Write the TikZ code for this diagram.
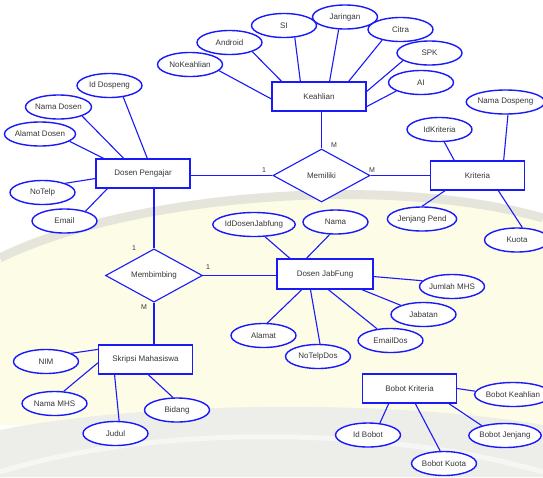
\documentclass[tikz,border=0pt]{standalone}
\usepackage{fontspec}
\setmainfont{Liberation Sans}
\usetikzlibrary{shapes.geometric}
\definecolor{erblue}{RGB}{25,25,250}
\definecolor{ertext}{RGB}{55,55,55}
\definecolor{paleyellow}{RGB}{253,252,230}
\definecolor{roofgray}{RGB}{230,229,220}
\definecolor{floorgray}{RGB}{237,237,234}
\tikzset{
  ent/.style={rectangle, draw=erblue, line width=1.2pt, fill=white, minimum width=94pt, minimum height=29pt, inner sep=0pt},
  rel/.style={diamond, draw=erblue, line width=1.1pt, fill=white, minimum width=97pt, minimum height=53pt, inner sep=0pt},
  attr/.style={ellipse, draw=erblue, line width=1.4pt, fill=white, minimum width=65pt, minimum height=24pt, inner sep=0pt},
  conn/.style={draw=erblue, line width=1.1pt},
  card/.style={font=\fontsize{7}{8}\selectfont, text=ertext, inner sep=0pt}
}
\begin{document}
\begin{tikzpicture}[x=1pt, y=-1pt, font=\fontsize{8}{9}\selectfont, text=ertext]
\useasboundingbox (0,0) rectangle (543,477);
\fill[white] (0,0) rectangle (543,477);

% faded backdrop: pale wall, arched roof line and grey forecourt
\fill[paleyellow] (0,255) .. controls (120,195) and (380,170) .. (543,215)
  -- (543,425) -- (0,425) -- cycle;
\draw[roofgray, line width=9pt] (0,258) .. controls (120,198) and (380,172) .. (543,218);
\fill[floorgray] (0,430) .. controls (150,400) and (400,400) .. (543,425) -- (543,477) -- (0,477) -- cycle;
\draw[white, line width=5pt, opacity=0.5] (0,472) .. controls (150,425) and (380,425) .. (543,472);

% entities
\node[ent] (dp) at (143,173.5) {Dosen Pengajar};
\node[ent] (ke) at (319,96.5) {Keahlian};
\node[ent] (kr) at (477.5,175.5) {Kriteria};
\node[ent, minimum width=96pt, minimum height=30pt] (dj) at (325,274) {Dosen JabFung};
\node[ent] (sm) at (145.5,359.5) {Skripsi Mahasiswa};
\node[ent] (bk) at (409.5,388.5) {Bobot Kriteria};

% relationships
\node[rel] (mem) at (321.5,175.5) {Memiliki};
\node[rel] (mbb) at (154,275.5) {Membimbing};

% attributes
\node[attr] (idd) at (109.5,85.5) {Id Dospeng};
\node[attr] (nmd) at (58.5,107) {Nama Dosen};
\node[attr] (ald) at (40,134) {Alamat Dosen};
\node[attr] (ntp) at (42.5,192.5) {NoTelp};
\node[attr] (eml) at (64.5,221) {Email};
\node[attr] (nok) at (190,64.5) {NoKeahlian};
\node[attr] (and) at (229.5,42.5) {Android};
\node[attr] (si) at (284,25.5) {SI};
\node[attr] (jar) at (345,17) {Jaringan};
\node[attr] (cit) at (400.5,29.5) {Citra};
\node[attr] (spk) at (429.5,53) {SPK};
\node[attr] (ai) at (421,82.5) {AI};
\node[attr] (ndk) at (505.5,102) {Nama Dospeng};
\node[attr] (idk) at (439.5,129.5) {IdKriteria};
\node[attr] (jjp) at (422,219) {Jenjang Pend};
\node[attr] (kuo) at (517,240) {Kuota};
\node[attr] (idj) at (254,224.5) {IdDosenJabfung};
\node[attr] (nam) at (335.5,222) {Nama};
\node[attr] (jmh) at (452,286.5) {Jumlah MHS};
\node[attr] (jab) at (423.5,314.5) {Jabatan};
\node[attr] (emd) at (390.5,340.5) {EmailDos};
\node[attr] (ntd) at (318,356.5) {NoTelpDos};
\node[attr] (ala) at (263.5,335.5) {Alamat};
\node[attr] (nim) at (46,361.5) {NIM};
\node[attr] (nmh) at (54.5,403.5) {Nama MHS};
\node[attr] (jud) at (115.5,433.5) {Judul};
\node[attr] (bid) at (177,410) {Bidang};
\node[attr] (bke) at (513,394.5) {Bobot Keahlian};
\node[attr] (idb) at (368,435) {Id Bobot};
\node[attr] (bku) at (444,463.5) {Bobot Kuota};
\node[attr] (bje) at (505,435.5) {Bobot Jenjang};

% relationship links
\draw[conn] (dp.east |- mem.west) -- (mem.west);
\draw[conn] (mbb.north |- dp.south) -- (mbb.north);
\draw[conn] (mem.north |- ke.south) -- (mem.north);
\draw[conn] (mem.east) -- (kr.west);
\draw[conn] (mbb.east) -- (dj.west |- mbb.east);
\draw[conn] (mbb.south) -- (mbb.south |- sm.north);

% cardinalities
\node[card] (c1) at (264,170) {1};
\node[card] (c2) at (334,145) {M};
\node[card] (c3) at (372,170) {M};
\node[card] (c4) at (134,248) {1};
\node[card] (c5) at (208,267) {1};
\node[card] (c6) at (144,307) {M};

% Dosen Pengajar attributes
\draw[conn] (idd.-40) -- (dp.74.6);
\draw[conn] (nmd.-21) -- (dp.142.6);
\draw[conn] (ald.-14) -- (dp.159.4);
\draw[conn] (ntp.22) -- (dp.186.7);
\draw[conn] (eml.25) -- (dp.203.1);

% Keahlian attributes
\draw[conn] (nok.-12.6) -- (ke.183);
\draw[conn] (and.-22) -- (ke.158);
\draw[conn] (si.-48.7) -- (ke.141);
\draw[conn] (jar.243.4) -- (ke.55.4);
\draw[conn] (cit.210.5) -- (ke.27.4);
\draw[conn] (spk.196.2) -- (ke.6.7);
\draw[conn] (ai.199.5) -- (ke.-12.6);

% Kriteria attributes
\draw[conn] (idk.-69.4) -- (kr.147.2);
\draw[conn] (ndk.-79) -- (kr.30.6);
\draw[conn] (jjp.north) -- (kr.205);
\draw[conn] (kuo.67) -- (kr.-36);

% Dosen JabFung attributes
\draw[conn] (idj.-48.7) -- (dj.156.8);
\draw[conn] (nam.245.4) -- (dj.140.2);
\draw[conn] (jmh.169.3) -- (dj.-3.6);
\draw[conn] (jab.158.8) -- (dj.-23.4);
\draw[conn] (emd.139.6) -- (dj.-78.7);
\draw[conn] (ntd.81) -- (dj.227);
\draw[conn] (ala.73) -- (dj.214.3);

% Skripsi Mahasiswa attributes
\draw[conn] (nim.18.8) -- (sm.168.7);
\draw[conn] (nmh.53.5) -- (sm.184.2);
\draw[conn] (jud.74.4) -- (sm.206.2);
\draw[conn] (bid.108.4) -- (sm.-80.2);

% Bobot Kriteria attributes
\draw[conn] (bke.175.5) -- (bk.0.6);
\draw[conn] (idb.45) -- (bk.216.6);
\draw[conn] (bku.107.7) -- (bk.-69.2);
\draw[conn] (bje.157.6) -- (bk.-21.7);
\end{tikzpicture}
\end{document}
